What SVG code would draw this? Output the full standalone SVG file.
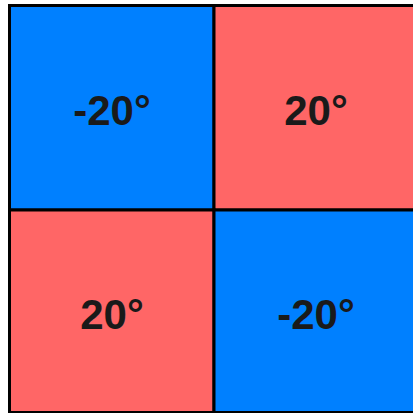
<svg xmlns="http://www.w3.org/2000/svg" width="413" height="413" viewBox="0 0 413 413">
<style>
.b{fill:#0080ff}
.r{fill:#ff6666}
.c{stroke:#000;stroke-width:3}
text{font-family:"Liberation Sans",Arial,sans-serif;font-weight:bold;font-size:42px;fill:#1a1a1a;text-anchor:middle}
</style>
<rect x="0" y="0" width="413" height="413" fill="#fff"/>
<g id="cell-tl"><rect class="b c" x="9.5" y="5.5" width="204.5" height="204.5"/><text x="112" y="125">-20°</text></g>
<g id="cell-tr"><rect class="r c" x="214" y="5.5" width="204.5" height="204.5"/><text x="316" y="125">20°</text></g>
<g id="cell-bl"><rect class="r c" x="9.5" y="210" width="204.5" height="202.5"/><text x="112" y="329">20°</text></g>
<g id="cell-br"><rect class="b c" x="214" y="210" width="204.5" height="202.5"/><text x="316" y="329">-20°</text></g>
</svg>
